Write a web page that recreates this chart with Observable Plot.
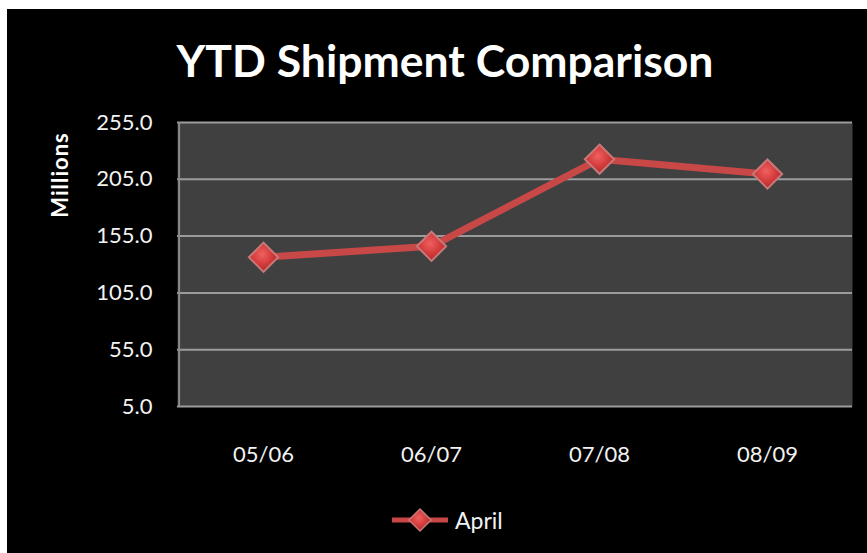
<!DOCTYPE html>
<html>
<head>
<meta charset="utf-8">
<script src="https://cdn.jsdelivr.net/npm/d3@7"></script>
<script src="https://cdn.jsdelivr.net/npm/@observablehq/plot@0.6"></script>
<style>
  html, body { margin: 0; padding: 0; background: #ffffff; }
  #chart { position: absolute; left: 7px; top: 9px; width: 860px; height: 544px; background: #000; overflow: hidden; font-family: Lato, "Open Sans", sans-serif; color: #f2f2f2; }
  #title { position: absolute; left: 0; width: 876px; top: 29px; text-align: center; font-size: 44.5px; font-weight: bold; color: #fff; line-height: 1; }
  #ylabel { position: absolute; left: 52px; top: 166px; transform: translate(-50%, -50%) rotate(-90deg); font-size: 22px; letter-spacing: 1px; font-weight: bold; color: #fff; white-space: nowrap; }
  #legend { position: absolute; left: 382px; top: 497px; display: flex; align-items: center; font-size: 23px; color: #f2f2f2; }
  #plot { position: absolute; left: 0; top: 0; }
</style>
</head>
<body>
<svg width="0" height="0" style="position:absolute">
  <defs>
    <radialGradient id="dgrad" cx="45%" cy="40%" r="60%">
      <stop offset="0%" stop-color="#f06060"/>
      <stop offset="60%" stop-color="#d23a3a"/>
      <stop offset="100%" stop-color="#a82c2c"/>
    </radialGradient>
  </defs>
</svg>
<div id="chart">
  <div id="plot"></div>
  <div id="title">YTD Shipment Comparison</div>
  <div id="ylabel">Millions</div>
  <div id="legend">
    <svg width="62" height="26" style="margin-right:4px">
      <line x1="3" y1="13" x2="59" y2="13" stroke="#c84848" stroke-width="5"/>
      <path d="M31,2 L42,13 L31,24 L20,13 Z" fill="url(#dgrad)" stroke="#c87878" stroke-width="1.5"/>
    </svg>
    <span>April</span>
  </div>
</div>
<script>
const seasons = ["05/06", "06/07", "07/08", "08/09"];
const april = [136.4, 146.0, 222.7, 209.6];
const yTicks = [5, 55, 105, 155, 205, 255];

const data = seasons.map((s, i) => ({season: s, value: april[i]}));

const diamond = {
  draw(context, size) {
    const r = Math.sqrt(size) * 0.75;
    context.moveTo(0, -r);
    context.lineTo(r, 0);
    context.lineTo(0, r);
    context.lineTo(-r, 0);
    context.closePath();
  }
};

const chart = Plot.plot({
  width: 860,
  height: 544,
  marginLeft: 170,
  marginRight: 15,
  marginTop: 113,
  marginBottom: 147,
  style: { background: "transparent", color: "#f2f2f2", fontFamily: "Lato, 'Open Sans', sans-serif" },
  x: { type: "point", domain: seasons, padding: 0.5 },
  y: { domain: [5, 255] },
  marks: [
    Plot.frame({ fill: "#404040", stroke: "none" }),
    Plot.ruleY(yTicks, { stroke: "#9c9c9c", strokeWidth: 2 }),
    Plot.ruleX([seasons[0]], { stroke: "#8a8a8a", strokeWidth: 2, dx: -84.4 }),
    Plot.axisY({ ticks: yTicks, tickSize: 0, tickPadding: 25, fontSize: 22, tickFormat: d => d.toFixed(1), label: null }),
    Plot.axisX({ tickSize: 0, tickPadding: 40, fontSize: 22, label: null }),
    Plot.line(data, { x: "season", y: "value", stroke: "#c84848", strokeWidth: 7 }),
    Plot.dot(data, { x: "season", y: "value", symbol: diamond, r: 11, fill: "url(#dgrad)", stroke: "#c87878", strokeWidth: 2 })
  ]
});
document.getElementById("plot").appendChild(chart);
</script>
</body>
</html>
